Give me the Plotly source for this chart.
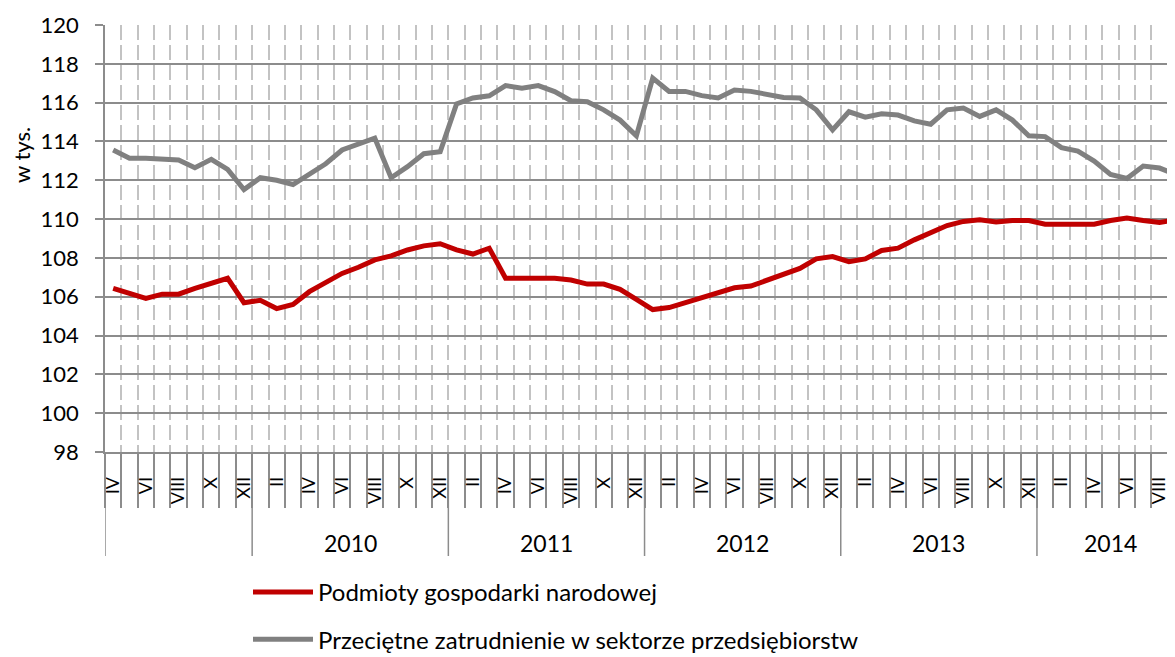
import plotly.graph_objects as go

# Monthly data, April 2009 - September 2014
start_year = 2009
start_month = 4
roman = ["I", "II", "III", "IV", "V", "VI", "VII", "VIII", "IX", "X", "XI", "XII"]

podmioty = [106.43, 106.17, 105.91, 106.13, 106.13, 106.43, 106.72, 106.95, 105.69, 105.82,
            105.39, 105.60, 106.26, 106.72, 107.20, 107.52, 107.90, 108.10, 108.41, 108.62,
            108.73, 108.41, 108.20, 108.50, 106.95, 106.95, 106.95, 106.95, 106.86, 106.65,
            106.65, 106.38, 105.86, 105.34, 105.44, 105.69, 105.91, 106.17, 106.46, 106.55,
            106.86, 107.15, 107.46, 107.95, 108.07, 107.81, 107.95, 108.38, 108.50, 108.93,
            109.33, 109.67, 109.88, 109.96, 109.85, 109.93, 109.93, 109.74, 109.74, 109.74,
            109.74, 109.93, 110.05, 109.93, 109.83, 109.96]

przedsiebiorstwa = [113.56, 113.13, 113.13, 113.08, 113.05, 112.65, 113.08, 112.56, 111.52, 112.13,
                    112.00, 111.78, 112.30, 112.85, 113.56, 113.90, 114.17, 112.13, 112.70, 113.37,
                    113.47, 115.93, 116.24, 116.35, 116.88, 116.74, 116.88, 116.57, 116.10, 116.05,
                    115.63, 115.10, 114.29, 117.27, 116.58, 116.58, 116.36, 116.24, 116.65, 116.58,
                    116.40, 116.27, 116.24, 115.63, 114.60, 115.53, 115.25, 115.43, 115.36, 115.06,
                    114.89, 115.63, 115.72, 115.29, 115.63, 115.10, 114.29, 114.25, 113.68, 113.50,
                    112.99, 112.30, 112.09, 112.73, 112.63, 112.30]

year_labels = {2009: "", 2010: "2010", 2011: "2011", 2012: "2012", 2013: "2013", 2014: "2014"}

n = len(podmioty)
x = list(range(n))
months = [(start_month - 1 + i) % 12 for i in range(n)]
years = [start_year + (start_month - 1 + i) // 12 for i in range(n)]
month_text = [roman[m] for m in months]

FONT = "Lato, 'Open Sans', sans-serif"
GRID = "#8c8c8c"

fig = go.Figure()
fig.add_trace(go.Scatter(x=x, y=podmioty, mode="lines", name="Podmioty gospodarki narodowej",
                         line=dict(color="#c00000", width=5), legendgroup="a"))
fig.add_trace(go.Scatter(x=x, y=przedsiebiorstwa, mode="lines",
                         name="Przeciętne zatrudnienie w sektorze przedsiębiorstw",
                         line=dict(color="#808080", width=5), legendgroup="b"))

# the page adds an 8px body margin, so the figure is 8px smaller each way
W, H = 1167, 649
ML, MT, MB = 97, 17, 205
PW, PH = W - ML, H - MT - MB   # 1070 x 427

# one month = 16.35px
x_max = -0.5 + PW / 16.35

fig.update_xaxes(
    range=[-0.5, x_max],
    tickmode="array",
    tickvals=x[::2],
    ticktext=month_text[::2],
    tickangle=-90,
    tickfont=dict(family=FONT, size=18, color="black"),
    ticks="outside", ticklen=16, tickcolor="rgba(0,0,0,0)",
    showgrid=False, zeroline=False, automargin=False,
    showline=True, linecolor=GRID, linewidth=1.5,
    minor=dict(tickmode="array", tickvals=[i - 0.5 for i in range(n + 1)],
               ticks="outside", ticklen=54, tickcolor=GRID, tickwidth=1.5,
               showgrid=True, gridcolor="#c3c3c3", gridwidth=1.5, griddash="15px,5px"),
)
fig.update_yaxes(
    range=[98, 120], dtick=2,
    tickfont=dict(family=FONT, size=22, color="black"),
    ticks="outside", ticklen=8, tickcolor=GRID, tickwidth=1.5,
    ticklabelstandoff=12, automargin=False,
    showgrid=True, gridcolor=GRID, gridwidth=1.5, zeroline=False,
    showline=True, linecolor=GRID, linewidth=1.5,
)

# year group separators and year labels below the month labels
sep_bottom = -104 / PH
fig.add_shape(type="line", xref="x", yref="paper", x0=-0.5, x1=-0.5, y0=0, y1=sep_bottom,
              line=dict(color=GRID, width=1.5))
for yr, label in year_labels.items():
    idx = [i for i in x if years[i] == yr]
    if months[idx[0]] == 0:
        fig.add_shape(type="line", xref="x", yref="paper", x0=idx[0] - 0.5, x1=idx[0] - 0.5,
                      y0=0, y1=sep_bottom, line=dict(color=GRID, width=1.5))
    if label:
        fig.add_annotation(x=(idx[0] + idx[-1]) / 2, y=-91 / PH, xref="x", yref="paper",
                           text=label, showarrow=False, xanchor="center", yanchor="middle",
                           font=dict(family=FONT, size=23, color="black"))

fig.add_annotation(x=-84 / PW, y=297 / PH, xref="paper", yref="paper", text="w tys.",
                   textangle=-90, showarrow=False, xanchor="center", yanchor="middle",
                   font=dict(family=FONT, size=22, color="black"))

fig.update_layout(
    width=W, height=H,
    margin=dict(l=ML, r=0, t=MT, b=MB, autoexpand=False),
    plot_bgcolor="white", paper_bgcolor="white",
    legend=dict(x=(240 - ML) / PW, y=-118 / PH, xanchor="left", yanchor="top",
                font=dict(family=FONT, size=24, color="black"), itemwidth=60,
                traceorder="grouped", tracegroupgap=13, bgcolor="rgba(0,0,0,0)"),
)

fig.write_html("out.html")
